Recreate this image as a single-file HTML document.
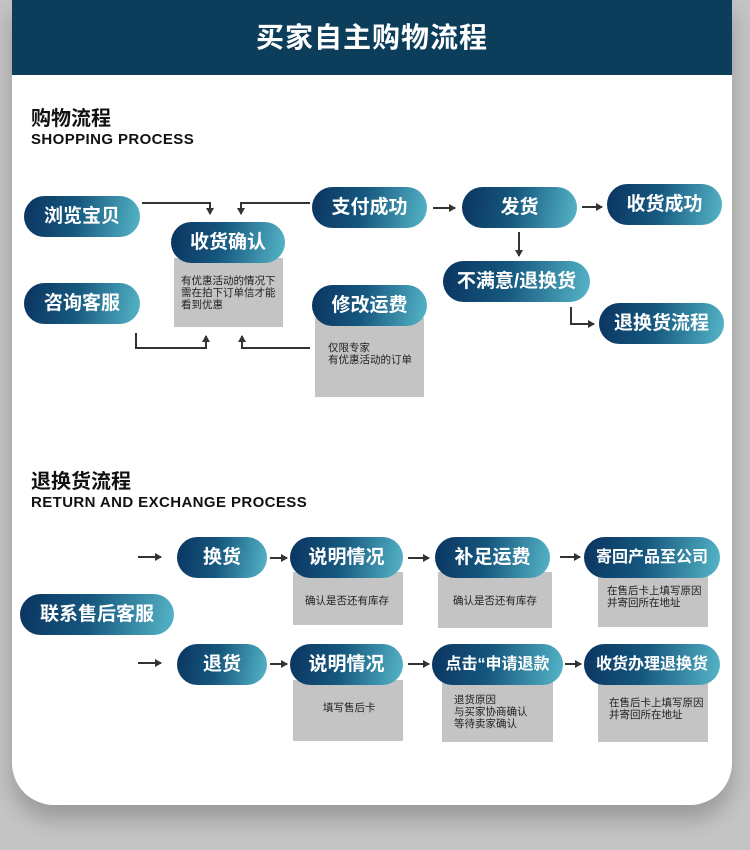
<!DOCTYPE html>
<html><head><meta charset="utf-8"><style>
*{margin:0;padding:0;box-sizing:border-box}
body{width:750px;height:850px;background:#c4c4c4;position:relative;overflow:hidden;font-family:"Liberation Sans","Noto Sans CJK SC",sans-serif}
.card{position:absolute;left:12px;top:0;width:720px;height:805px;background:#fff;border-radius:0 0 42px 42px;box-shadow:0 14px 22px rgba(0,0,0,0.22)}
.hdr{position:absolute;left:12px;top:0;width:720px;height:75px;background:#0c3d5a;color:#fff;font-size:28px;font-weight:bold;text-align:center;line-height:76px;letter-spacing:1px}
.h1{position:absolute;left:31px;font-size:20px;font-weight:bold;color:#111}
.h2{position:absolute;left:31px;font-size:15px;font-weight:bold;color:#111;letter-spacing:0.4px}
.p{position:absolute;height:41px;border-radius:21px;background:linear-gradient(100deg,#0a3460 0%,#16587f 45%,#56b6c8 100%);color:#fff;font-size:19px;font-weight:bold;text-align:center;line-height:41px;white-space:nowrap;z-index:2}
.g{position:absolute;background:#c4c4c4;font-size:10.5px;color:#222;line-height:12px;z-index:1}
svg{position:absolute;left:0;top:0;z-index:3}
</style></head><body>
<div class="card"></div>
<div class="hdr">买家自主购物流程</div>
<div class="h1" style="top:102px">购物流程</div>
<div class="h2" style="top:131px">SHOPPING PROCESS</div>
<div class="h1" style="top:465px">退换货流程</div>
<div class="h2" style="top:494px">RETURN AND EXCHANGE PROCESS</div>

<div class="p" style="left:24px;top:196px;width:116px">浏览宝贝</div>
<div class="p" style="left:24px;top:283px;width:116px">咨询客服</div>
<div class="g" style="left:174px;top:258px;width:109px;height:69px;padding:17px 0 0 7px">有优惠活动的情况下<br>需在拍下订单信才能<br>看到优惠</div>
<div class="p" style="left:171px;top:222px;width:114px">收货确认</div>
<div class="p" style="left:312px;top:187px;width:115px">支付成功</div>
<div class="g" style="left:315px;top:318px;width:109px;height:79px;padding:24px 0 0 13px">仅限专家<br>有优惠活动的订单</div>
<div class="p" style="left:312px;top:285px;width:115px">修改运费</div>
<div class="p" style="left:462px;top:187px;width:115px">发货</div>
<div class="p" style="left:607px;top:184px;width:115px">收货成功</div>
<div class="p" style="left:443px;top:261px;width:147px">不满意/退换货</div>
<div class="p" style="left:599px;top:303px;width:125px">退换货流程</div>

<div class="p" style="left:20px;top:594px;width:154px">联系售后客服</div>
<div class="p" style="left:177px;top:537px;width:90px">换货</div>
<div class="p" style="left:177px;top:644px;width:90px">退货</div>
<div class="g" style="left:293px;top:572px;width:110px;height:53px;padding:23px 0 0 12px">确认是否还有库存</div>
<div class="p" style="left:290px;top:537px;width:113px">说明情况</div>
<div class="g" style="left:293px;top:680px;width:110px;height:61px;padding:22px 0 0 30px">填写售后卡</div>
<div class="p" style="left:290px;top:644px;width:113px">说明情况</div>
<div class="g" style="left:438px;top:572px;width:114px;height:56px;padding:23px 0 0 15px">确认是否还有库存</div>
<div class="p" style="left:435px;top:537px;width:115px">补足运费</div>
<div class="g" style="left:442px;top:680px;width:111px;height:62px;padding:14px 0 0 12px">退货原因<br>与买家协商确认<br>等待卖家确认</div>
<div class="p" style="left:432px;top:644px;width:131px;font-size:16px">点击“申请退款</div>
<div class="g" style="left:598px;top:572px;width:110px;height:55px;padding:13px 0 0 9px">在售后卡上填写原因<br>并寄回所在地址</div>
<div class="p" style="left:584px;top:537px;width:136px;font-size:16px">寄回产品至公司</div>
<div class="g" style="left:598px;top:680px;width:110px;height:62px;padding:17px 0 0 11px">在售后卡上填写原因<br>并寄回所在地址</div>
<div class="p" style="left:584px;top:644px;width:136px;font-size:16px">收货办理退换货</div>

<svg width="750" height="850" fill="none" stroke="#333" stroke-width="2">
<defs><marker id="a" markerWidth="8" markerHeight="8" refX="6" refY="4" orient="auto" markerUnits="userSpaceOnUse"><path d="M0,0 L7,4 L0,8 z" fill="#333" stroke="none"/></marker></defs>
<polyline points="142,203 210,203 210,214" marker-end="url(#a)"/>
<polyline points="310,203 241,203 241,214" marker-end="url(#a)"/>
<polyline points="136,333 136,348 206,348 206,336" marker-end="url(#a)"/>
<polyline points="310,348 242,348 242,336" marker-end="url(#a)"/>
<line x1="433" y1="208" x2="455" y2="208" marker-end="url(#a)"/>
<line x1="582" y1="207" x2="602" y2="207" marker-end="url(#a)"/>
<line x1="519" y1="232" x2="519" y2="256" marker-end="url(#a)"/>
<polyline points="571,307 571,324 594,324" marker-end="url(#a)"/>
<line x1="138" y1="557" x2="161" y2="557" marker-end="url(#a)"/>
<line x1="138" y1="663" x2="161" y2="663" marker-end="url(#a)"/>
<line x1="270" y1="558" x2="287" y2="558" marker-end="url(#a)"/>
<line x1="270" y1="664" x2="287" y2="664" marker-end="url(#a)"/>
<line x1="408" y1="558" x2="429" y2="558" marker-end="url(#a)"/>
<line x1="408" y1="664" x2="429" y2="664" marker-end="url(#a)"/>
<line x1="560" y1="557" x2="580" y2="557" marker-end="url(#a)"/>
<line x1="565" y1="664" x2="581" y2="664" marker-end="url(#a)"/>
</svg>
</body></html>
